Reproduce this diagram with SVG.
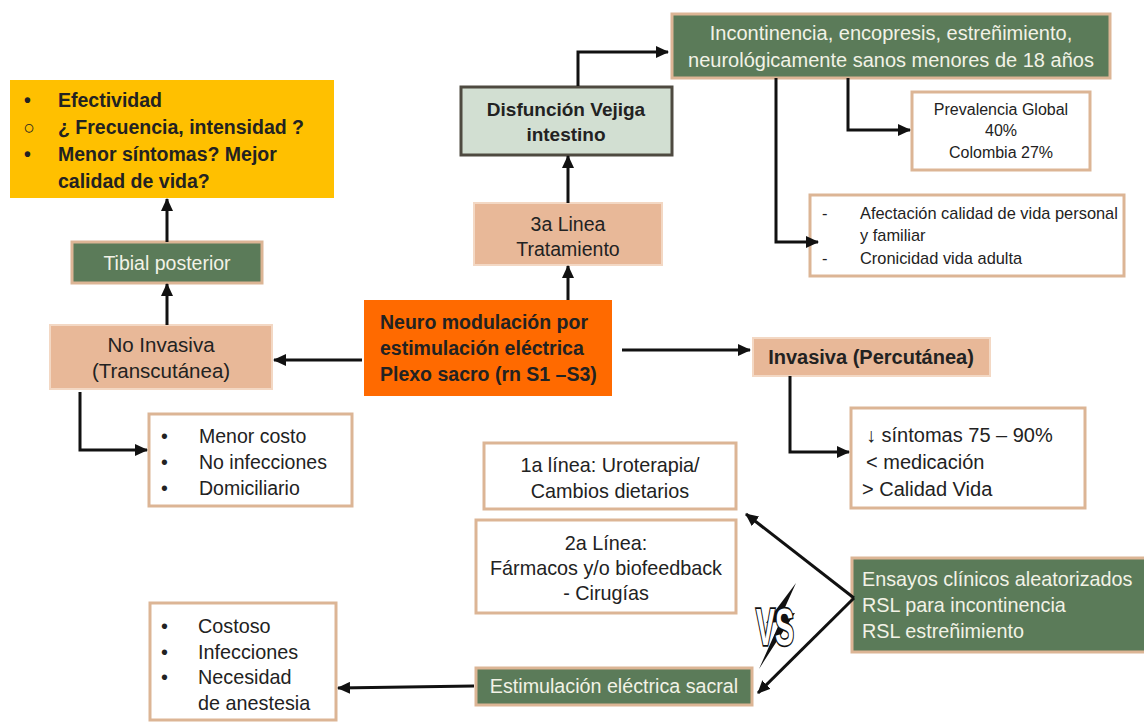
<svg xmlns="http://www.w3.org/2000/svg" width="1144" height="723" viewBox="0 0 1144 723">
<defs>
<marker id="ah" markerUnits="userSpaceOnUse" markerWidth="13" markerHeight="12" refX="12" refY="6" orient="auto">
<path d="M0,0 L13,6 L0,12 z" fill="#111"/>
</marker>
<style>
text{font-family:"Liberation Sans",Arial,sans-serif;fill:#222}
.b{font-weight:bold}
.c{text-anchor:middle}
.lt{fill:#f2f2e6}
.white{fill:#fff;stroke:#dcb595;stroke-width:3}
.green{fill:#5b7b59;stroke:#dcb595;stroke-width:3}
.peach{fill:#e8b898;stroke:#f3d8c4;stroke-width:2}
.conn path,.conn line{stroke:#111;stroke-width:3;fill:none;marker-end:url(#ah)}
</style>
</defs>
<rect width="1144" height="723" fill="#fff"/>

<g id="yellow">
<rect x="10" y="80" width="324" height="118" fill="#ffc000"/>
<g font-size="19.5">
<text x="24" y="107" class="b">•</text>
<text x="23" y="134">○</text>
<text x="24" y="161" class="b">•</text>
<text x="58" y="107" class="b">Efectividad</text>
<text x="58" y="134" class="b">¿ Frecuencia, intensidad ?</text>
<text x="58" y="161" class="b">Menor síntomas? Mejor</text>
<text x="58" y="188" class="b">calidad de vida?</text>
</g>
</g>

<g id="tibial">
<rect x="72" y="242" width="190" height="41" class="green"/>
<text x="167" y="270" class="c lt" font-size="19.5">Tibial posterior</text>
</g>

<g id="noinvasiva">
<rect x="50" y="325" width="222" height="64" class="peach"/>
<text x="161" y="352" class="c" font-size="20.5">No Invasiva</text>
<text x="161" y="378" class="c" font-size="20.5">(Transcutánea)</text>
</g>

<g id="menorcosto">
<rect x="149" y="414" width="203" height="92" class="white"/>
<g font-size="19.5">
<text x="161" y="443">•</text><text x="199" y="443">Menor costo</text>
<text x="161" y="469">•</text><text x="199" y="469">No infecciones</text>
<text x="161" y="495">•</text><text x="199" y="495">Domiciliario</text>
</g>
</g>

<g id="neuro">
<rect x="364" y="300" width="248" height="96" fill="#ff6a00"/>
<g font-size="19.5">
<text x="380" y="329" class="b">Neuro modulación por</text>
<text x="380" y="355" class="b">estimulación eléctrica</text>
<text x="380" y="381" class="b">Plexo sacro (rn S1 –S3)</text>
</g>
</g>

<g id="tercera">
<rect x="474" y="203" width="188" height="62" class="peach"/>
<text x="568" y="231" class="c" font-size="19.5">3a Linea</text>
<text x="568" y="256" class="c" font-size="19.5">Tratamiento</text>
</g>

<g id="disfuncion">
<rect x="461" y="87" width="211" height="68" fill="#d2dfd2" stroke="#4e4a40" stroke-width="3"/>
<text x="566" y="116" class="c b" font-size="19">Disfunción Vejiga</text>
<text x="566" y="141" class="c b" font-size="19">intestino</text>
</g>

<g id="incontinencia">
<rect x="672" y="14" width="438" height="64" class="green"/>
<text x="891" y="40" class="c lt" font-size="20">Incontinencia, encopresis, estreñimiento,</text>
<text x="891" y="67" class="c lt" font-size="20">neurológicamente sanos menores de 18 años</text>
</g>

<g id="prevalencia">
<rect x="912" y="92" width="178" height="78" class="white"/>
<text x="1001" y="115" class="c" font-size="16">Prevalencia Global</text>
<text x="1001" y="136" class="c" font-size="16">40%</text>
<text x="1001" y="158" class="c" font-size="16">Colombia 27%</text>
</g>

<g id="afectacion">
<rect x="810" y="195" width="314" height="81" class="white"/>
<g font-size="16.4">
<text x="822" y="219">-</text><text x="860" y="219">Afectación calidad de vida personal</text>
<text x="860" y="241">y familiar</text>
<text x="822" y="264">-</text><text x="860" y="264">Cronicidad vida adulta</text>
</g>
</g>

<g id="invasiva">
<rect x="753" y="338" width="237" height="38" class="peach"/>
<text x="871" y="364" class="c b" font-size="20">Invasiva (Percutánea)</text>
</g>

<g id="sintomas">
<rect x="851" y="408" width="234" height="100" class="white"/>
<g font-size="20">
<text x="866" y="442">↓ síntomas 75 – 90%</text>
<text x="866" y="469"> &lt; medicación</text>
<text x="862" y="496">&gt; Calidad Vida</text>
</g>
</g>

<g id="primera">
<rect x="484" y="443" width="252" height="66" class="white"/>
<text x="610" y="472" class="c" font-size="19.8">1a línea: Uroterapia/</text>
<text x="610" y="498" class="c" font-size="19.8">Cambios dietarios</text>
</g>

<g id="segunda">
<rect x="476" y="520" width="260" height="93" class="white"/>
<text x="606" y="550" class="c" font-size="19.8">2a Línea:</text>
<text x="606" y="575" class="c" font-size="19.8">Fármacos y/o biofeedback</text>
<text x="606" y="600" class="c" font-size="19.8">- Cirugías</text>
</g>

<g id="ensayos">
<rect x="852" y="558" width="300" height="94" class="green"/>
<text x="862" y="586" class="lt" font-size="19.8">Ensayos clínicos aleatorizados</text>
<text x="862" y="612" class="lt" font-size="19.8">RSL para incontinencia</text>
<text x="862" y="638" class="lt" font-size="19.8">RSL estreñimiento</text>
</g>

<g id="estimulacion">
<rect x="476" y="668" width="276" height="37" class="green"/>
<text x="614" y="693" class="c lt" font-size="19.7">Estimulación eléctrica sacral</text>
</g>

<g id="costoso">
<rect x="150" y="603" width="186" height="117" class="white"/>
<g font-size="19.8">
<text x="161" y="633">•</text><text x="198" y="633">Costoso</text>
<text x="161" y="659">•</text><text x="198" y="659">Infecciones</text>
<text x="161" y="684">•</text><text x="198" y="684">Necesidad</text>
<text x="198" y="710">de anestesia</text>
</g>
</g>

<g id="vs">
<polygon points="796,583 766,623 780,622 759,669 795,613 782,614" fill="#111"/>
<text transform="translate(775,645) scale(0.95,1.7)" class="c b" font-size="30" style="fill:#fff;stroke:#111;stroke-width:2;paint-order:stroke">VS</text>
</g>

<g class="conn" id="connectors">
<line x1="167" y1="242" x2="167" y2="199"/>
<line x1="167" y1="325" x2="167" y2="284"/>
<line x1="362" y1="360" x2="274" y2="360"/>
<path d="M80,392 V450 H147"/>
<line x1="568" y1="300" x2="568" y2="266"/>
<line x1="568" y1="203" x2="568" y2="156"/>
<path d="M578,86 V52 H668"/>
<path d="M848,78 V130 H910"/>
<path d="M776,78 V242 H818"/>
<line x1="622" y1="350" x2="750" y2="350"/>
<path d="M790,376 V452 H849"/>
<line x1="854" y1="598" x2="746" y2="514"/>
<line x1="854" y1="598" x2="758" y2="693"/>
<line x1="474" y1="686" x2="338" y2="688"/>
</g>
</svg>
